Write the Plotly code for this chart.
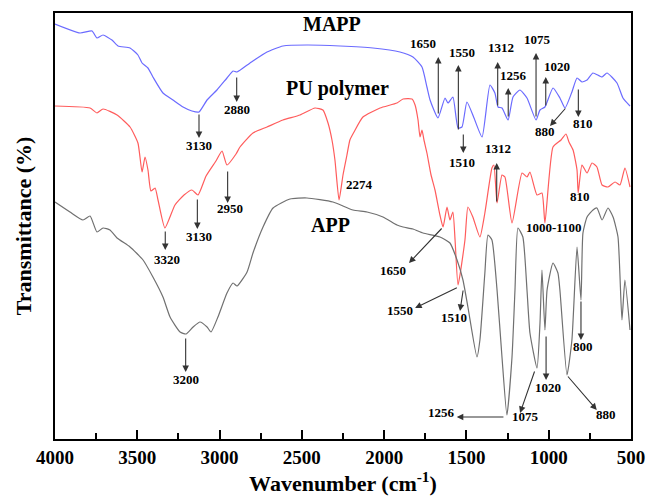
import plotly.graph_objects as go

# ---------------- data (wavenumber cm-1, transmittance a.u.) ----------------
mapp_wn = [4000, 3848, 3775, 3745, 3708, 3654, 3617, 3544, 3496, 3471, 3435, 3405, 3344, 3283, 3222,
           3168, 3125, 3076, 3016, 2955, 2918, 2894, 2815, 2712, 2615, 2469, 2268, 2068, 1904, 1825,
           1770, 1740, 1721, 1673, 1630, 1612, 1582, 1551, 1527, 1497, 1454, 1405, 1357, 1327, 1308,
           1284, 1247, 1217, 1175, 1132, 1077, 1053, 1023, 974, 932, 901, 859, 828, 798, 767, 731,
           676, 646, 585, 549, 506]
mapp_t = [415, 406, 408, 401, 404, 399, 393, 391, 384, 376, 371, 362, 346, 339, 332,
          328, 327, 339, 349, 361, 368, 367, 376, 387, 393, 394, 393, 391, 387, 382,
          372, 352, 339, 321, 341, 336, 342, 311, 312, 337, 321, 302, 354, 346, 332,
          331, 319, 342, 349, 341, 319, 329, 332, 351, 341, 331, 347, 361, 357, 359, 366,
          362, 366, 356, 341, 333]

pu_wn = [4000, 3787, 3745, 3708, 3623, 3544, 3496, 3471, 3453, 3435, 3417, 3392, 3374, 3332, 3271,
         3216, 3168, 3131, 3082, 3022, 2985, 2955, 2900, 2876, 2797, 2712, 2615, 2511, 2420, 2372,
         2341, 2317, 2299, 2274, 2250, 2226, 2208, 2183, 2129, 2025, 1922, 1885, 1831, 1812, 1794,
         1782, 1770, 1758, 1740, 1715, 1691, 1661, 1642, 1618, 1600, 1582, 1569, 1551, 1509, 1491,
         1461, 1418, 1388, 1345, 1333, 1314, 1284, 1266, 1223, 1162, 1132, 1114, 1071, 1041, 1023,
         974, 925, 895, 877, 852, 828, 821, 798, 767, 737, 707, 676, 640, 597, 567, 537, 506]
pu_t = [333, 331, 326, 330, 324, 312, 296, 267, 282, 269, 248, 251, 239, 211, 234,
        244, 249, 244, 263, 278, 288, 274, 285, 292, 306, 312, 319, 324, 331, 329,
        316, 299, 279, 239, 264, 284, 299, 307, 322, 331, 336, 340, 340, 334, 319,
        302, 309, 299, 286, 264, 249, 224, 212, 232, 219, 227, 199, 154, 199, 232,
        222, 202, 226, 271, 274, 236, 264, 262, 216, 266, 262, 267, 244, 246, 216,
        292, 299, 305, 297, 289, 269, 246, 274, 266, 276, 272, 254, 252, 257, 254, 271, 252]

app_wn = [4000, 3909, 3830, 3787, 3745, 3708, 3666, 3623, 3544, 3465, 3405, 3344, 3301, 3240, 3204,
          3161, 3119, 3076, 3052, 3010, 2955, 2918, 2894, 2833, 2797, 2736, 2675, 2572, 2469, 2311,
          2189, 2104, 2007, 1922, 1885, 1825, 1764, 1661, 1600, 1557, 1521, 1491, 1436, 1418, 1388,
          1369, 1345, 1314, 1284, 1254, 1223, 1205, 1187, 1157, 1132, 1114, 1071, 1053, 1041, 1023,
          1010, 974, 944, 932, 889, 859, 828, 804, 792, 767, 731, 707, 676, 640, 609, 579, 555,
          537, 506]
app_t = [237, 227, 219, 223, 207, 211, 209, 201, 192, 179, 162, 142, 122, 107, 105,
         112, 117, 112, 107, 122, 146, 156, 153, 167, 186, 212, 231, 240, 241, 237,
         229, 227, 222, 214, 212, 210, 206, 202, 196, 179, 159, 132, 82, 99, 166,
         204, 199, 149, 82, 24, 82, 149, 211, 202, 149, 106, 71, 116, 169, 109,
         149, 176, 166, 149, 64, 99, 192, 139, 206, 222, 229, 231, 219, 231, 222, 202, 119,
         159, 109]

# series names and labels
curve_names = ["MAPP", "PU polymer", "APP"]
curve_colors = ["#6b6bff", "#ff5c5c", "#707070"]
x_ticks = [4000, 3500, 3000, 2500, 2000, 1500, 1000, 500]
x_minor = [3750, 3250, 2750, 2250, 1750, 1250, 750]

# arrows: (head_wn, head_t, tail_wn, tail_t)
arrows = [
    (3125, 301, 3125, 326), (2896, 337, 2896, 363), (1671, 382, 1671, 324), (1549, 374, 1549, 308),
    (1519, 286, 1519, 306), (1310, 377, 1310, 332), (1246, 351, 1246, 321), (1077, 386, 1077, 321),
    (1018, 362, 1018, 332), (992, 313, 891, 332), (820, 322, 820, 351),
    (3330, 189, 3330, 209), (3135, 210, 3135, 241), (2951, 236, 2951, 269), (1316, 276, 1316, 236),
    (1849, 176, 1642, 212), (1812, 131, 1549, 152), (1539, 128, 1519, 150),
    (3206, 67, 3206, 102), (1559, 22, 1266, 22), (1174, 26, 1083, 69), (1016, 59, 1016, 104),
    (708, 29, 891, 64), (804, 99, 804, 139),
]
# small labels: (text, wn, t)
peak_labels = [
    ("3130", 3125, 294), ("2880", 2894, 330), ("1650", 1764, 396), ("1550", 1529, 387),
    ("1510", 1529, 277), ("1312", 1290, 392), ("1256", 1215, 364), ("1075", 1069, 400),
    ("1020", 952, 373), ("880", 1023, 308), ("810", 790, 316),
    ("3320", 3321, 180), ("3130", 3125, 203), ("2950", 2937, 231), ("2274", 2151, 255),
    ("1312", 1306, 291), ("810", 810, 243), ("1000-1100", 968, 211.5), ("1650", 1949, 169),
    ("1550", 1904, 129), ("1510", 1576, 122),
    ("3200", 3206, 59.5), ("1256", 1650, 27), ("1075", 1144, 23), ("1020", 1002, 52),
    ("880", 652, 25), ("800", 790, 93),
]
big_labels = [("MAPP", 2317, 415), ("PU polymer", 2286, 351), ("APP", 2329, 214)]

FONT = "Liberation Serif"

fig = go.Figure()
for name, wn, t, col in zip(curve_names, [mapp_wn, pu_wn, app_wn], [mapp_t, pu_t, app_t], curve_colors):
    fig.add_trace(go.Scatter(x=wn, y=t, mode="lines", name=name,
                             line=dict(color=col, width=1.2, shape="spline", smoothing=0.5)))

annotations = []
for hx, hy, tx, ty in arrows:
    annotations.append(dict(x=hx, y=hy, ax=tx, ay=ty, xref="x", yref="y", axref="x", ayref="y",
                            text="", showarrow=True, arrowhead=2, arrowsize=1.2, arrowwidth=1.1,
                            arrowcolor="#333333", standoff=0, startstandoff=0))
for txt, x, y in peak_labels:
    annotations.append(dict(x=x, y=y, xref="x", yref="y", text="<b>%s</b>" % txt, showarrow=False,
                            font=dict(family=FONT, size=13, color="black")))
for txt, x, y in big_labels:
    annotations.append(dict(x=x, y=y, xref="x", yref="y", text="<b>%s</b>" % txt, showarrow=False,
                            font=dict(family=FONT, size=20, color="black")))

fig.update_layout(
    width=646, height=498,
    margin=dict(l=55, r=15, t=13, b=59, autoexpand=False),
    paper_bgcolor="white", plot_bgcolor="white",
    showlegend=False,
    annotations=annotations,
    font=dict(family=FONT, color="black"),
)
fig.update_xaxes(range=[4000, 500], autorange=False, automargin=False,
                 showgrid=False, zeroline=False,
                 showline=True, linecolor="black", linewidth=1.5, mirror=True,
                 ticks="inside", ticklen=9, tickwidth=1.5, tickcolor="black",
                 tickmode="array", tickvals=x_ticks,
                 ticktext=["<b>%d</b>" % v for v in x_ticks],
                 ticklabelstandoff=0,
                 tickfont=dict(family=FONT, size=19, color="black"),
                 minor=dict(ticks="inside", ticklen=6, tickwidth=1.5, tickcolor="black",
                            tickvals=x_minor),
                 title=dict(text="<b>Wavenumber (cm<sup>-1</sup>)</b>",
                            font=dict(family=FONT, size=22, color="black"), standoff=9))
fig.update_yaxes(range=[0, 426], autorange=False, automargin=False,
                 showgrid=False, zeroline=False,
                 showline=True, linecolor="black", linewidth=1.5, mirror=True,
                 showticklabels=False, ticks="",
                 title=dict(text="<b>Transmittance (%)</b>",
                            font=dict(family=FONT, size=22, color="black"), standoff=16))

fig.write_html("out.html")
